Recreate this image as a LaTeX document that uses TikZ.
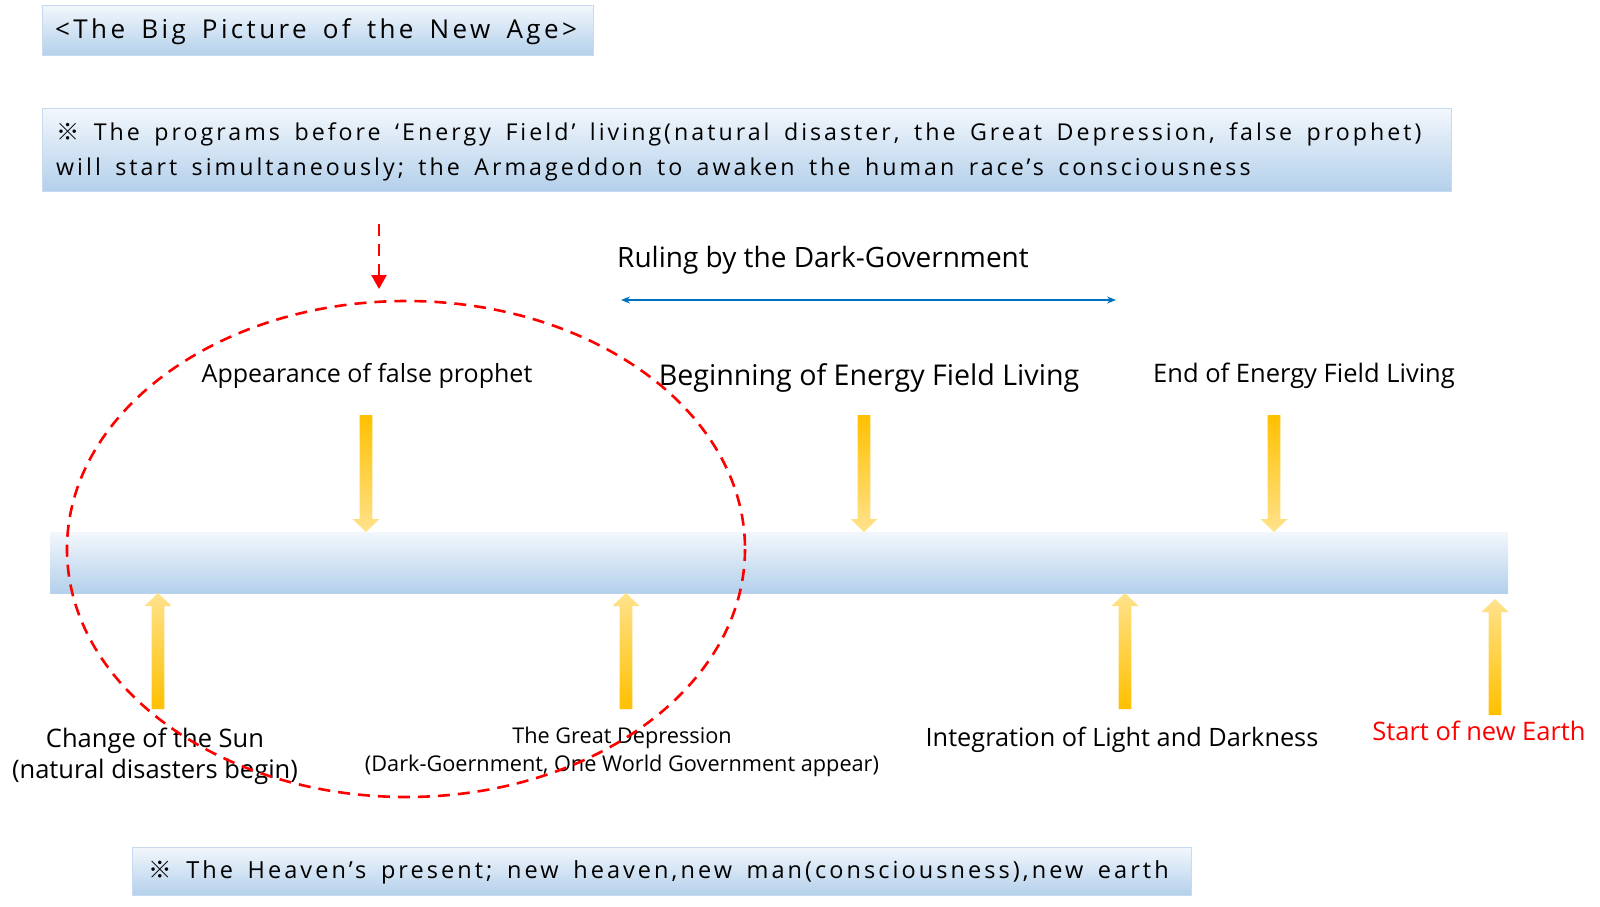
\documentclass[tikz,border=0pt]{standalone}
\usepackage{fontspec}
\setmainfont{Open Sans}
\newfontfamily\boxfont[LetterSpace=13,WordSpace=1.6]{Open Sans}
\newfontfamily\cjk{Noto Sans CJK KR}
\usetikzlibrary{arrows.meta}
\definecolor{boxtop}{RGB}{242,247,252}
\definecolor{boxbot}{RGB}{180,208,235}
\definecolor{boxedge}{RGB}{200,218,240}
\definecolor{ydark}{RGB}{255,192,0}
\definecolor{ylight}{RGB}{255,226,140}
\definecolor{rulerblue}{RGB}{0,112,192}
\definecolor{ered}{RGB}{255,0,0}
\tikzset{
  bluebox/.style={draw=boxedge, line width=1pt, top color=boxtop, bottom color=boxbot},
  bartl/.style={top color=boxtop, bottom color=boxbot},
  lbl/.style={inner sep=0pt, align=center, text=black},
  reddash/.style={draw=ered, line width=2.6pt, dash pattern=on 12pt off 8pt},
}
\newcommand\kome{{\cjk ※}}
\newcommand\yarrdown[3]{% x, ytop, ytip
  \path[top color=ydark, bottom color=ylight]
    (#1-6.4,#2) -- (#1+6.4,#2) -- (#1+6.4,#3-13) -- (#1+13.5,#3-13) -- (#1,#3)
    -- (#1-13.5,#3-13) -- (#1-6.4,#3-13) -- cycle;}
\newcommand\yarrup[3]{% x, ybot, ytip
  \path[top color=ylight, bottom color=ydark]
    (#1-6.4,#2) -- (#1+6.4,#2) -- (#1+6.4,#3+13) -- (#1+13.5,#3+13) -- (#1,#3)
    -- (#1-13.5,#3+13) -- (#1-6.4,#3+13) -- cycle;}
\begin{document}
\begin{tikzpicture}[x=1pt,y=-1pt]
\useasboundingbox (0,0) rectangle (1600,906);
% title box
\path[bluebox] (42,5) rectangle (593,55);
\node[lbl, anchor=west, font=\boxfont\fontsize{26}{30}\selectfont] (title) at (55,32) {<The Big Picture of the New Age>};
% programs box
\path[bluebox] (42,108) rectangle (1451,191);
\node[lbl, anchor=west, align=left, font=\boxfont\fontsize{23.2}{34.5}\selectfont] (prog) at (56,152) {\kome{} The programs before ‘Energy Field’ living(natural disaster, the Great Depression, false prophet)\\ will start simultaneously; the Armageddon to awaken the human race’s consciousness};
% bottom box
\path[bluebox] (132,847) rectangle (1191,895);
\node[lbl, anchor=west, font=\boxfont\fontsize{23.5}{26}\selectfont] (present) at (148,872) {\kome{} The Heaven’s present; new heaven,new man(consciousness),new earth};
% ruling
\node[lbl, font=\fontsize{28}{32}\selectfont] (ruling) at (823,260) {Ruling by the Dark-Government};
\coordinate (rl) at (621,300);
\coordinate (rr) at (1116,300);
\draw[rulerblue, line width=1.6pt, {Stealth[length=9pt,width=7pt]}-{Stealth[length=9pt,width=7pt]}] (rl) -- (rr);
% timeline bar
\path[bartl] (50,532) rectangle (1508,593);
\node[inner sep=0pt, minimum width=1458pt, minimum height=61pt] (bar) at (779,562.5) {};
% upper labels
\node[lbl, font=\fontsize{25}{30}\selectfont] (fp) at (367,376) {Appearance of false prophet};
\node[lbl, font=\fontsize{28.6}{32}\selectfont] (bef) at (869,378) {Beginning of Energy Field Living};
\node[lbl, font=\fontsize{25.5}{30}\selectfont] (end) at (1304,376) {End of Energy Field Living};
% down arrows
\yarrdown{366}{415}{532}
\yarrdown{864}{415}{532}
\yarrdown{1274}{415}{532}
% up arrows
\yarrup{158}{709}{593}
\yarrup{626}{709}{593}
\yarrup{1125}{709}{593}
\yarrup{1495}{715}{599}
% lower labels
\node[lbl, font=\fontsize{25.5}{30.6}\selectfont] (sun) at (155,756) {Change of the Sun\\(natural disasters begin)};
\node[lbl, font=\fontsize{21.7}{27.5}\selectfont] (gd) at (622,752) {The Great Depression\\(Dark-Goernment, One World Government appear)};
\node[lbl, font=\fontsize{25.3}{30}\selectfont] (int) at (1122,740) {Integration of Light and Darkness};
\node[lbl, text=ered, font=\fontsize{25.5}{30}\selectfont] (start) at (1479,731) {Start of new Earth};
% red ellipse and arrow
\path[reddash] (406,549) ellipse [x radius=339, y radius=248];
\coordinate (ra) at (379,224);
\coordinate (rb) at (379,289);
\draw[reddash, -{Triangle[length=14pt,width=15pt]}] (ra) -- (rb);
\end{tikzpicture}
\end{document}
